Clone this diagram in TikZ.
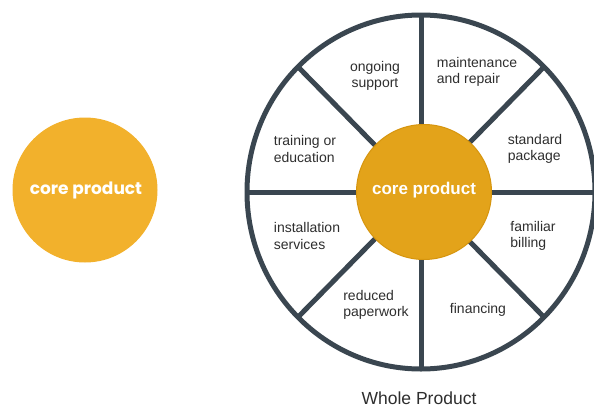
\documentclass[tikz,border=0pt]{standalone}
\usepackage{fontspec}
\usetikzlibrary{calc}
\setmainfont{Liberation Sans}
\newfontfamily\popfont{Poppins}
\definecolor{spoke}{HTML}{3A4650}
\definecolor{coreA}{HTML}{F2B12C}
\definecolor{coreB}{HTML}{E3A31A}
\definecolor{coreBd}{HTML}{D6950E}
\definecolor{txt}{HTML}{2E2E2E}
\begin{document}
\begin{tikzpicture}[x=1pt,y=-1pt,
  lbl/.style={text=txt,font=\fontsize{14}{16.5}\selectfont,align=left,inner sep=0pt},
  spk/.style={draw=spoke,line width=5pt}]
\useasboundingbox (0,0) rectangle (594,407);
% left core product
\node[circle,fill=coreA,minimum size=145pt,inner sep=0pt] (lc) at (85,190) {};
\node[text=white,font=\popfont\bfseries\fontsize{17}{20}\selectfont] (lct) at (86,190) {core product};
% whole product
\coordinate (c) at (421,192);
\foreach \a [count=\i] in {0,45,...,315}{
  \coordinate (e\i) at ($(c)+({174*cos(\a)},{-177*sin(\a)})$);
}
\foreach \i in {1,...,8}{ \draw[spk] (c) -- (e\i); }
\draw[draw=spoke,line width=5pt] (c) ellipse [x radius=174,y radius=177];
\node[circle,fill=coreB,draw=coreBd,line width=1pt,minimum size=135pt,inner sep=0pt] (ic) at (424,192) {};
\node[text=white,font=\bfseries\fontsize{17}{20}\selectfont] (ict) at (424,190) {core product};
\node[lbl,align=center] (n1) at (375,76) {ongoing\\support};
\node[lbl] (n2) at (477,72) {maintenance\\and repair};
\node[lbl] (n3) at (305,149) {training or\\education};
\node[lbl] (n4) at (535,149) {standard\\package};
\node[lbl] (n5) at (307,236) {installation\\services};
\node[lbl] (n6) at (533,236) {familiar\\billing};
\node[lbl] (n7) at (376,305) {reduced\\paperwork};
\node[lbl] (n8) at (478,310) {financing};
\node[text=txt,font=\fontsize{17.5}{20}\selectfont,inner sep=0pt] (wp) at (419,398) {Whole Product};
\end{tikzpicture}
\end{document}
